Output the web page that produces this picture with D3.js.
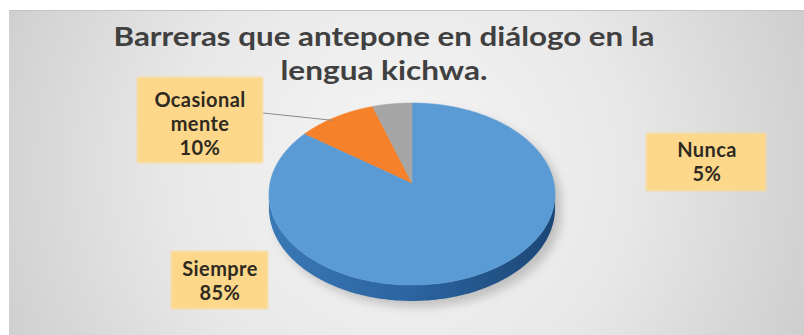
<!DOCTYPE html>
<html>
<head>
<meta charset="utf-8">
<script src="https://cdn.jsdelivr.net/npm/d3@7"></script>
<style>
  html, body { margin: 0; padding: 0; background: #ffffff; }
  svg { display: block; }
</style>
</head>
<body>
<svg id="chart" width="804" height="335"></svg>
<script>
// ---- data ----
const titleLines = ["Barreras que antepone en diálogo en la", "lengua kichwa."];
const categories = ["Siempre", "Ocasionalmente", "Nunca"];
const values = [85, 10, 5];
const labelNames = [["Siempre"], ["Ocasional", "mente"], ["Nunca"]];
const topColors = ["#5b9bd5", "#f5822a", "#a6a6a6"];
const sideColors = ["url(#sideBlue)", "#b85c1e", "#7a7a7a"];

const W = 804, H = 335;
const svg = d3.select("#chart");
const defs = svg.append("defs");

// ---- panel background ----
const bg = defs.append("radialGradient").attr("id", "bg")
  .attr("gradientUnits", "userSpaceOnUse")
  .attr("cx", 400).attr("cy", 170).attr("r", 460);
bg.append("stop").attr("offset", 0).attr("stop-color", "#f6f6f6");
bg.append("stop").attr("offset", 0.5).attr("stop-color", "#e8e8e8");
bg.append("stop").attr("offset", 1).attr("stop-color", "#cbcbcb");

svg.append("rect").attr("x", 9).attr("y", 10).attr("width", W - 9).attr("height", H - 10)
  .attr("fill", "url(#bg)");
svg.append("line").attr("x1", 9).attr("x2", W).attr("y1", 10.5).attr("y2", 10.5)
  .attr("stroke", "#c4c4c4").attr("stroke-width", 1);

// ---- pie geometry (tilted disc seen in perspective) ----
const cx = 412, apexY = 183;
const A = 142, B = 89.7, k = 0.121, depth = 14;

function proj(phi, drop) {
  const w = 1 + k * Math.cos(phi);
  return [cx + A * Math.sin(phi) / w, apexY - B * Math.cos(phi) / w + (drop || 0) / w];
}
function arcPoints(a0, a1, drop) {
  const n = Math.max(2, Math.ceil(Math.abs(a1 - a0) / (Math.PI / 180)));
  return d3.range(n + 1).map(i => proj(a0 + (a1 - a0) * i / n, drop));
}

const pie = d3.pie().sort(null).value(d => d).startAngle(0).endAngle(2 * Math.PI);
const arcs = pie(values);
const color = d3.scaleOrdinal().domain(categories).range(topColors);
const sideColor = d3.scaleOrdinal().domain(categories).range(sideColors);
const line = d3.line();

// side visible between the two silhouette points
const phiL = Math.acos(-k), phiR = 2 * Math.PI - Math.acos(-k);

const sideG = defs.append("linearGradient").attr("id", "sideBlue")
  .attr("gradientUnits", "userSpaceOnUse").attr("x1", 268).attr("x2", 556).attr("y1", 0).attr("y2", 0);
sideG.append("stop").attr("offset", 0).attr("stop-color", "#3a79b6");
sideG.append("stop").attr("offset", 0.5).attr("stop-color", "#2b64a0");
sideG.append("stop").attr("offset", 1).attr("stop-color", "#1b4675");

// soft shadow
const sh = defs.append("filter").attr("id", "shadow").attr("x", "-20%").attr("y", "-20%").attr("width", "140%").attr("height", "140%");
sh.append("feGaussianBlur").attr("stdDeviation", 5);
svg.append("path")
  .attr("d", line(arcPoints(phiL, phiR, depth).concat(arcPoints(phiR, phiL + 2 * Math.PI, 0))) + "Z")
  .attr("transform", "translate(6,6)")
  .attr("fill", "#6f6f6f").attr("opacity", 0.35).attr("filter", "url(#shadow)");

// side walls
const pieG = svg.append("g");
arcs.forEach((a, i) => {
  const s0 = Math.max(a.startAngle, phiL), s1 = Math.min(a.endAngle, phiR);
  if (s1 <= s0) return;
  const pts = arcPoints(s0, s1, 0).concat(arcPoints(s1, s0, depth));
  pieG.append("path").attr("d", line(pts) + "Z").attr("fill", sideColor(categories[i]));
});

// top faces
arcs.forEach((a, i) => {
  const pts = [[cx, apexY]].concat(arcPoints(a.startAngle, a.endAngle, 0));
  pieG.append("path").attr("d", line(pts) + "Z")
    .attr("fill", color(categories[i]))
    .attr("stroke", color(categories[i])).attr("stroke-width", 0.5);
});

// ---- title ----
const titleG = svg.append("g").attr("font-family", "Lato, 'Open Sans', sans-serif")
  .attr("font-weight", 700).attr("font-size", 27).attr("fill", "#404040").attr("text-anchor", "middle");
const titleY = [46, 80];
const titleWidths = [541, 207];
titleLines.forEach((t, i) => titleG.append("text").attr("x", 384).attr("y", titleY[i])
  .attr("textLength", titleWidths[i]).attr("lengthAdjust", "spacingAndGlyphs").text(t));

// ---- data labels ----
const boxBlur = defs.append("filter").attr("id", "soft");
boxBlur.append("feGaussianBlur").attr("stdDeviation", 0.8);

const labelBoxes = [
  { x: 171, y: 251, w: 97, h: 58, tx: 220, ty: 276 },
  { x: 137, y: 77, w: 126, h: 86, tx: 200, ty: 107 },
  { x: 646, y: 133, w: 120, h: 58, tx: 707, ty: 157 }
];

// leader line for the small slice label
const mid = arcs[1].startAngle + 0.45 * (arcs[1].endAngle - arcs[1].startAngle);
const edge = proj(mid, 0);
svg.append("line").attr("x1", 263).attr("y1", 113).attr("x2", edge[0]).attr("y2", edge[1] + 2)
  .attr("stroke", "#8a8a8a").attr("stroke-width", 1);

const labG = svg.append("g");
arcs.forEach((a, i) => {
  const b = labelBoxes[i];
  labG.append("rect").attr("x", b.x).attr("y", b.y).attr("width", b.w).attr("height", b.h)
    .attr("fill", "#fdd88b").attr("filter", "url(#soft)");
  const lines = labelNames[i].concat([Math.round(a.value) + "%"]);
  const t = labG.append("text").attr("text-anchor", "middle")
    .attr("font-family", "Lato, 'Open Sans', sans-serif").attr("font-weight", 700)
    .attr("font-size", 20).attr("letter-spacing", 0.4).attr("fill", "#2f2a1f");
  lines.forEach((s, j) => t.append("tspan").attr("x", b.tx).attr("y", b.ty + j * 24).text(s));
});
</script>
</body>
</html>
